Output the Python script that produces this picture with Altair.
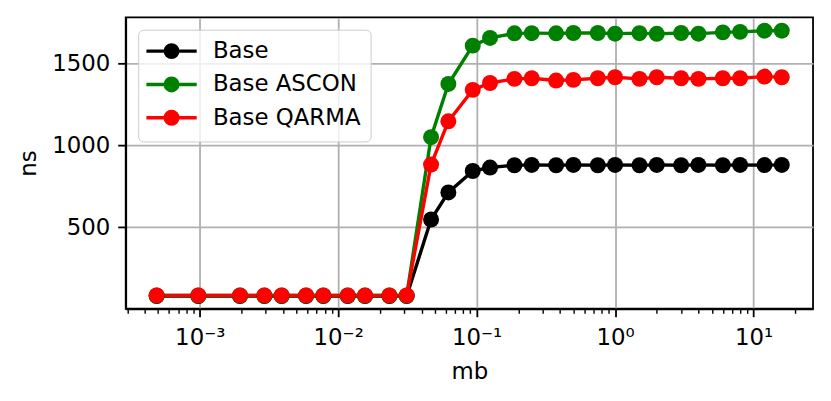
import altair as alt
import pandas as pd

# message sizes in KB (x shown in MB)
size_kb = [0.5, 1, 2, 3, 4, 6, 8, 12, 16, 24, 32, 48, 64, 96, 128, 192, 256, 384,
           512, 768, 1024, 1536, 2048, 3072, 4096, 6144, 8192, 12288, 16384]

series_names = ["Base", "Base ASCON", "Base QARMA"]
series_colors = ["#000000", "#008000", "#ff0000"]

base = [80, 80, 80, 80, 80, 80, 80, 80, 80, 80, 80,
        547, 712, 843, 864, 878, 880, 878, 880, 878, 880, 878, 880, 878, 880,
        878, 880, 879, 880]
base_ascon = [83, 83, 83, 83, 83, 83, 83, 83, 83, 83, 83,
              1049, 1374, 1608, 1655, 1683, 1684, 1683, 1685, 1685, 1681, 1684, 1680, 1685,
              1681, 1689, 1692, 1699, 1699]
base_qarma = [84, 84, 84, 84, 84, 84, 84, 84, 84, 84, 84,
              882, 1146, 1338, 1380, 1405, 1409, 1395, 1399, 1409, 1415, 1405, 1415, 1409,
              1405, 1409, 1409, 1419, 1415]

major_ticks = [0.001, 0.01, 0.1, 1, 10]
major_labels = ["10\u207b\u00b3", "10\u207b\u00b2", "10\u207b\u00b9", "10\u2070", "10\u00b9"]
minor_mult = [2, 3, 4, 5, 6, 7, 8, 9]
y_ticks = [500, 1000, 1500]

x_domain = [0.000292, 26.9]
y_domain = [2.4, 1780]

rows = []
for name, vals in zip(series_names, [base, base_ascon, base_qarma]):
    for kb, v in zip(size_kb, vals):
        rows.append({"series": name, "mb": kb / 1024, "ns": v})
df = pd.DataFrame(rows)

all_ticks = []
for m in [0.0001] + major_ticks:
    for k in [1] + minor_mult:
        t = m * k
        if x_domain[0] <= t <= x_domain[1]:
            all_ticks.append(round(t, 6))
all_ticks = sorted(set(all_ticks))

is_major = "abs(log(datum.value)/LN10 - round(log(datum.value)/LN10)) < 1e-6"
label_expr = ""
for t, lab in zip(major_ticks, major_labels):
    label_expr += f"abs(datum.value - {t}) < {t}*1e-6 ? '{lab}' : "
label_expr += "''"

FONT = "DejaVu Sans"
FS = 22.9

legend_path = ("M-3.6,0L3.6,0M-0.9,0A0.9,0.9 0 1,1 0.9,0"
               "A0.9,0.9 0 1,1 -0.9,0Z")

chart = alt.Chart(df).mark_line(
    strokeWidth=3.4,
    point=alt.OverlayMarkDef(filled=True, size=256, opacity=1),
).encode(
    x=alt.X("mb:Q", title="mb",
            scale=alt.Scale(type="log", domain=x_domain, nice=False),
            axis=alt.Axis(values=all_ticks, labelExpr=label_expr,
                          tickSize={"condition": {"test": is_major, "value": 8}, "value": 4.6},
                          tickWidth={"condition": {"test": is_major, "value": 1.8}, "value": 1.4},
                          gridOpacity={"condition": {"test": is_major, "value": 1}, "value": 0},
                          labelPadding=10, titlePadding=11, labelFlush=False,
                          labelOverlap=False)),
    y=alt.Y("ns:Q", title="ns",
            scale=alt.Scale(domain=y_domain, nice=False, zero=False),
            axis=alt.Axis(values=y_ticks, format="d", tickSize=8, tickWidth=1.8,
                          labelPadding=8, titlePadding=11)),
    color=alt.Color("series:N",
                    scale=alt.Scale(domain=series_names, range=series_colors),
                    legend=alt.Legend(title=None, orient="none", legendX=12.5, legendY=12.3,
                                      symbolType=legend_path, symbolSize=196,
                                      symbolStrokeWidth=3.4, symbolOffset=12, labelOffset=30,
                                      padding=10, rowPadding=6.4,
                                      fillColor="rgba(255,255,255,0.8)",
                                      strokeColor="#cccccc", cornerRadius=5,
                                      labelFont=FONT, labelFontSize=FS, labelColor="black",
                                      labelLimit=400)),
).properties(
    width=689, height=292,
    autosize=alt.AutoSizeParams(type="none"),
    padding={"left": 118, "top": 9, "right": 10, "bottom": 80},
).configure_view(
    stroke="black", strokeWidth=1.8,
).configure_axis(
    grid=True, gridColor="#b0b0b0", gridWidth=1.8,
    domainColor="black", domainWidth=1.8, tickColor="black",
    labelFont=FONT, labelFontSize=FS, labelColor="black",
    titleFont=FONT, titleFontSize=FS, titleFontWeight="normal", titleColor="black",
)

chart.save("out.html", embed_options={"renderer": "svg", "actions": False})
